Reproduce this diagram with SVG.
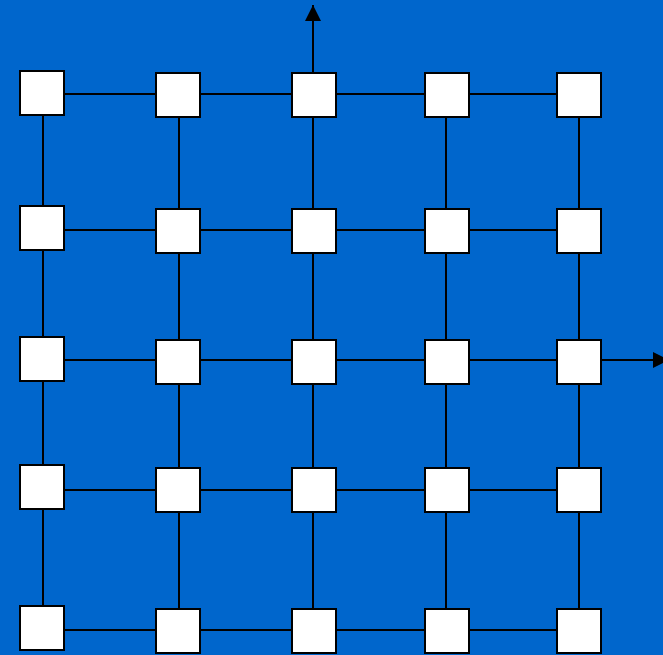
<svg xmlns="http://www.w3.org/2000/svg" width="663" height="655" viewBox="0 0 663 655">
<style>
.n{fill:#fff;stroke:#000;stroke-width:2}
.c line{stroke:#000;stroke-width:2}
</style>
<defs>
<marker id="ah" markerUnits="userSpaceOnUse" markerWidth="16" markerHeight="16" refX="16" refY="8" orient="auto" viewBox="0 0 16 16">
<path d="M0,0L16,8L0,16Z" fill="#000"/>
</marker>
</defs>
<rect width="663" height="655" fill="#0066CC"/>
<g class="c" id="connectors">
<line x1="43" y1="94" x2="579" y2="94"/>
<line x1="43" y1="230" x2="579" y2="230"/>
<line x1="43" y1="360" x2="579" y2="360"/>
<line x1="43" y1="490" x2="579" y2="490"/>
<line x1="43" y1="630" x2="579" y2="630"/>
<line x1="43" y1="94" x2="43" y2="630"/>
<line x1="179" y1="94" x2="179" y2="630"/>
<line x1="313" y1="94" x2="313" y2="630"/>
<line x1="446" y1="94" x2="446" y2="630"/>
<line x1="579" y1="94" x2="579" y2="630"/>
<line x1="313" y1="72" x2="313" y2="5" marker-end="url(#ah)"/>
<line x1="601" y1="360" x2="669" y2="360" marker-end="url(#ah)"/>
</g>
<g id="n00"><rect class="n" x="20" y="71" width="44" height="44"/></g>
<g id="n01"><rect class="n" x="156" y="73" width="44" height="44"/></g>
<g id="n02"><rect class="n" x="292" y="73" width="44" height="44"/></g>
<g id="n03"><rect class="n" x="425" y="73" width="44" height="44"/></g>
<g id="n04"><rect class="n" x="557" y="73" width="44" height="44"/></g>
<g id="n10"><rect class="n" x="20" y="206" width="44" height="44"/></g>
<g id="n11"><rect class="n" x="156" y="209" width="44" height="44"/></g>
<g id="n12"><rect class="n" x="292" y="209" width="44" height="44"/></g>
<g id="n13"><rect class="n" x="425" y="209" width="44" height="44"/></g>
<g id="n14"><rect class="n" x="557" y="209" width="44" height="44"/></g>
<g id="n20"><rect class="n" x="20" y="337" width="44" height="44"/></g>
<g id="n21"><rect class="n" x="156" y="340" width="44" height="44"/></g>
<g id="n22"><rect class="n" x="292" y="340" width="44" height="44"/></g>
<g id="n23"><rect class="n" x="425" y="340" width="44" height="44"/></g>
<g id="n24"><rect class="n" x="557" y="340" width="44" height="44"/></g>
<g id="n30"><rect class="n" x="20" y="465" width="44" height="44"/></g>
<g id="n31"><rect class="n" x="156" y="468" width="44" height="44"/></g>
<g id="n32"><rect class="n" x="292" y="468" width="44" height="44"/></g>
<g id="n33"><rect class="n" x="425" y="468" width="44" height="44"/></g>
<g id="n34"><rect class="n" x="557" y="468" width="44" height="44"/></g>
<g id="n40"><rect class="n" x="20" y="606" width="44" height="44"/></g>
<g id="n41"><rect class="n" x="156" y="609" width="44" height="44"/></g>
<g id="n42"><rect class="n" x="292" y="609" width="44" height="44"/></g>
<g id="n43"><rect class="n" x="425" y="609" width="44" height="44"/></g>
<g id="n44"><rect class="n" x="557" y="609" width="44" height="44"/></g>
</svg>
